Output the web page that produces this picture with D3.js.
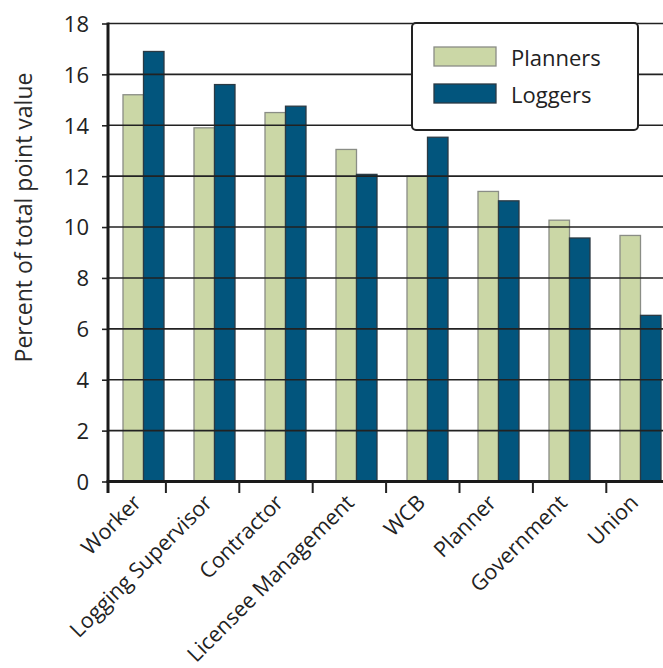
<!DOCTYPE html>
<html>
<head>
<meta charset="utf-8">
<script src="https://cdn.jsdelivr.net/npm/d3@7"></script>
<style>
  html, body { margin: 0; padding: 0; background: #fff; }
  svg { display: block; }
</style>
</head>
<body>
<svg id="chart" width="663" height="668"></svg>
<script>
// Share of total point value assigned to each party, by respondent group
const categories = ["Worker", "Logging Supervisor", "Contractor", "Licensee Management",
                    "WCB", "Planner", "Government", "Union"];
const planners = [15.2, 13.9, 14.5, 13.05, 12.0, 11.4, 10.27, 9.67];
const loggers  = [16.9, 15.6, 14.75, 12.07, 13.53, 11.03, 9.57, 6.53];
const seriesNames = ["Planners", "Loggers"];
const yTicks = [0, 2, 4, 6, 8, 10, 12, 14, 16, 18];

const plotLeft = 108, plotRight = 663, plotTop = 23.5, plotBottom = 481.5;
const font = "'Open Sans', 'Noto Sans', sans-serif";
const colors = { Planners: "#cbd7a6", Loggers: "#02557d" };
const strokes = { Planners: "#8a8d86", Loggers: "#2b3a44" };
const ink = "#222";

const svg = d3.select("#chart");

const y = d3.scaleLinear().domain([0, 18]).range([plotBottom, plotTop]);

// Bar groups sit on a 71px step starting at the value axis
const x = d3.scaleBand().domain(categories).range([plotLeft, plotLeft + 71 * categories.length])
  .paddingInner(30 / 71).paddingOuter(15 / 71);
const xs = d3.scaleBand().domain(seriesNames).range([0, x.bandwidth()]);

// Category tick marks use their own, slightly wider step
const tickScale = d3.scaleBand().domain(categories).range([92.5, 92.5 + 73.4 * categories.length]);

const rows = categories.map((c, i) => ({ cat: c, Planners: planners[i], Loggers: loggers[i] }));

// Bars
svg.append("g").selectAll("g.cat").data(rows).join("g")
  .attr("class", "cat")
  .attr("transform", d => `translate(${x(d.cat)},0)`)
  .selectAll("rect").data(d => seriesNames.map(s => ({ s, v: d[s] }))).join("rect")
  .attr("x", d => xs(d.s))
  .attr("y", d => y(d.v))
  .attr("width", xs.bandwidth())
  .attr("height", d => y(0) - y(d.v))
  .attr("fill", d => colors[d.s])
  .attr("stroke", d => strokes[d.s])
  .attr("stroke-width", 1.3);

// Horizontal grid lines drawn over the bars
svg.append("g").selectAll("line").data(yTicks.filter(t => t > 0)).join("line")
  .attr("x1", plotLeft).attr("x2", plotRight)
  .attr("y1", d => y(d)).attr("y2", d => y(d))
  .attr("stroke", ink).attr("stroke-width", 1.6);

// Value axis
const yAxis = svg.append("g").attr("transform", `translate(${plotLeft},0)`)
  .call(d3.axisLeft(y).tickValues(yTicks).tickSize(6).tickPadding(13));
yAxis.select(".domain").remove();
yAxis.selectAll(".tick line").attr("stroke", ink).attr("stroke-width", 1.6);
yAxis.selectAll(".tick text")
  .attr("fill", ink).style("font-family", font).style("font-size", "22px")
  .attr("dy", "0.36em");

svg.append("line").attr("x1", plotLeft).attr("x2", plotLeft).attr("y1", y(18) - 1).attr("y2", 493)
  .attr("stroke", "#1a1a1a").attr("stroke-width", 3);
svg.append("line").attr("x1", plotLeft - 1.5).attr("x2", plotRight).attr("y1", y(0)).attr("y2", y(0))
  .attr("stroke", "#1a1a1a").attr("stroke-width", 3);

// Category ticks between groups
svg.append("g").selectAll("line").data(categories.slice(1)).join("line")
  .attr("x1", d => tickScale(d)).attr("x2", d => tickScale(d))
  .attr("y1", y(0)).attr("y2", 493)
  .attr("stroke", ink).attr("stroke-width", 2);

// Category labels, rotated
svg.append("g").selectAll("text").data(categories).join("text")
  .attr("transform", d => `translate(${x(d) + x.bandwidth() / 2 - 1},504) rotate(-45)`)
  .attr("text-anchor", "end")
  .attr("fill", ink)
  .style("font-family", font).style("font-size", "21.5px")
  .text(d => d);

// Axis title
svg.append("text")
  .attr("transform", `translate(32,${(72 + 363) / 2}) rotate(-90)`)
  .attr("text-anchor", "middle")
  .attr("fill", "#2a2a2a")
  .style("font-family", font).style("font-size", "23px")
  .text("Percent of total point value");

// Legend
const lg = svg.append("g").attr("transform", "translate(412,23)");
lg.append("rect").attr("width", 226).attr("height", 107).attr("rx", 4)
  .attr("fill", "#fff").attr("stroke", ink).attr("stroke-width", 2);
const items = lg.selectAll("g.item").data(seriesNames).join("g")
  .attr("class", "item")
  .attr("transform", (d, i) => `translate(22,${24 + i * 37})`);
items.append("rect").attr("width", 62).attr("height", 19)
  .attr("fill", d => colors[d]).attr("stroke", d => strokes[d]).attr("stroke-width", 1.3);
items.append("text").attr("x", 77).attr("y", 19)
  .attr("fill", ink).style("font-family", font).style("font-size", "22px")
  .text(d => d);
</script>
</body>
</html>
